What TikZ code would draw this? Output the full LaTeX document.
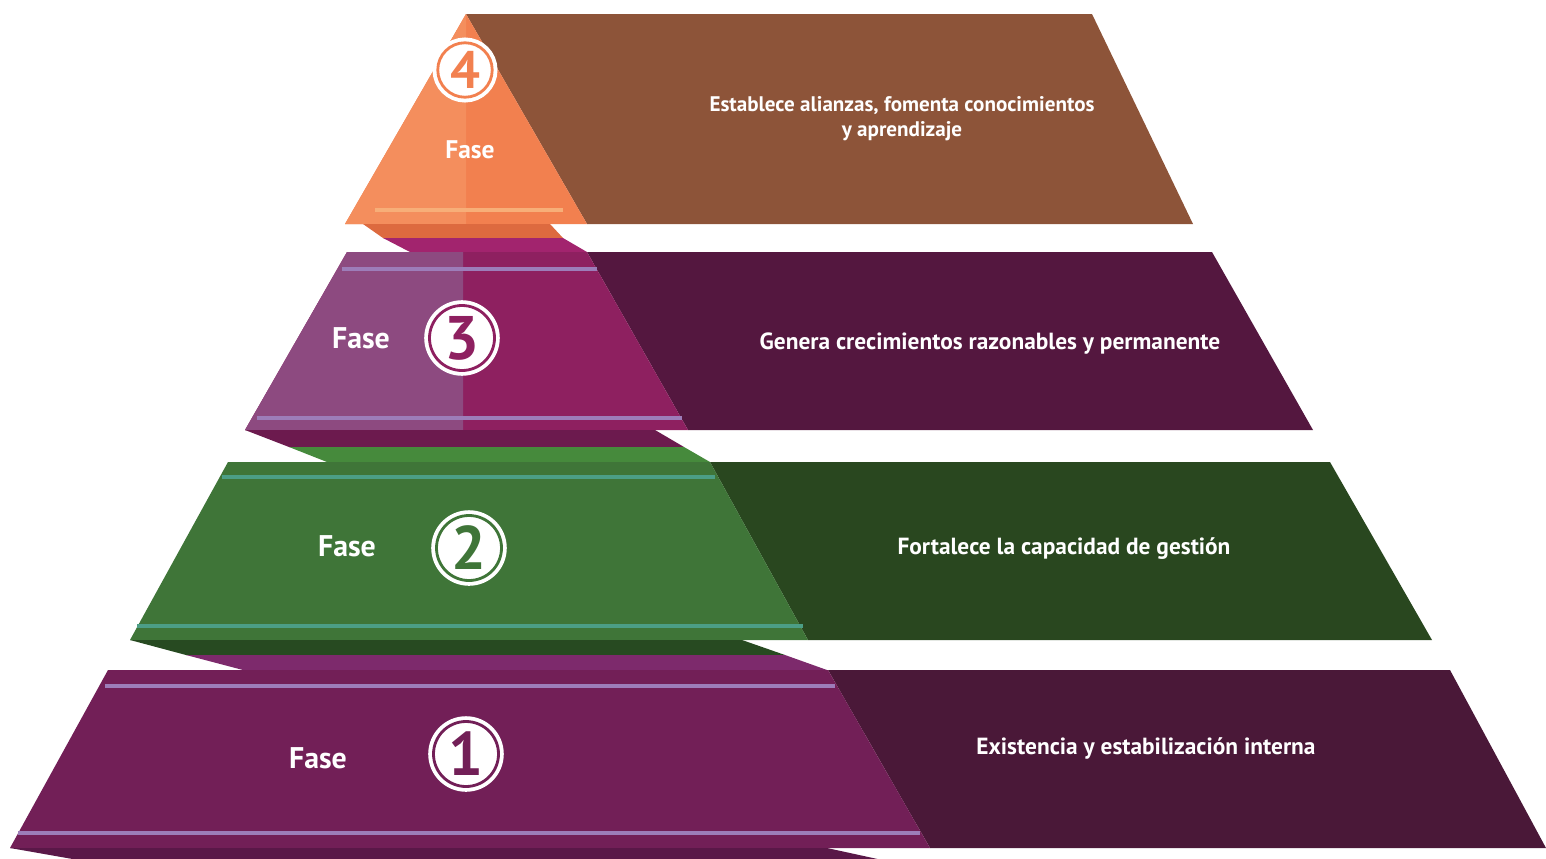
\documentclass[tikz,border=0pt]{standalone}
\usepackage{fontspec}
\setmainfont{PT Sans}
\usetikzlibrary{shapes,positioning}
\definecolor{orangeL}{HTML}{F48E5D}
\definecolor{orangeR}{HTML}{F2804F}
\definecolor{orangeD}{HTML}{DD6A3F}
\definecolor{orangeLine}{HTML}{F7AE78}
\definecolor{brownR}{HTML}{8D5439}
\definecolor{magL}{HTML}{8D4A80}
\definecolor{magR}{HTML}{8E2060}
\definecolor{magTop}{HTML}{A2246E}
\definecolor{magD}{HTML}{6C1A4E}
\definecolor{plumR}{HTML}{54173F}
\definecolor{lavLine}{HTML}{9D7DB9}
\definecolor{greenM}{HTML}{3F7538}
\definecolor{greenTop}{HTML}{468A3C}
\definecolor{greenD}{HTML}{274A21}
\definecolor{greenR}{HTML}{29471F}
\definecolor{tealLine}{HTML}{4C9E86}
\definecolor{purM}{HTML}{721F57}
\definecolor{purTop}{HTML}{7D2A6C}
\definecolor{purD}{HTML}{5A1848}
\definecolor{purR}{HTML}{4A1838}

\begin{document}
\begin{tikzpicture}[x=0.02cm,y=-0.02cm,
  fasestyle/.style={text=white,font=\bfseries\fontsize{17}{19}\selectfont},
  descstyle/.style={text=white,font=\bfseries\fontsize{13.3}{15}\selectfont,align=center},
  numstyle/.style={circle,fill=white,draw=white,double=#1,text=#1,line width=2.2pt,
    double distance=1.6pt,inner sep=0pt,minimum size=37pt,
    font=\bfseries\fontsize{35}{35}\selectfont}]
\useasboundingbox (0,0) rectangle (1546,859);
\clip (0,0) rectangle (1546,859);

% fase 4
\fill[brownR] (466,14)--(1092,14)--(1193,224)--(587,224)--cycle;
\fill[orangeR] (466,14)--(587,224)--(345,224)--cycle;
\fill[orangeL] (466,14)--(466,224)--(345,224)--cycle;
\draw[orangeLine,line width=1.8pt] (375,210)--(563,210);
\fill[orangeD] (363,224)--(550,224)--(563,238)--(383,238)--cycle;
\fill[magTop] (383,238)--(563,238)--(587,252)--(410,252)--cycle;

% fase 3
\fill[plumR] (587,252)--(1212,252)--(1313,430)--(688,430)--cycle;
\fill[magR] (347,252)--(587,252)--(688,430)--(245,430)--cycle;
\fill[magL] (347,252)--(463,252)--(463,430)--(245,430)--cycle;
\draw[lavLine,line width=1.8pt] (342,269)--(597,269);
\draw[lavLine,line width=1.8pt] (257,418)--(682,418);
\fill[magD] (245,430)--(655,430)--(684,447)--(289,447)--cycle;
\fill[greenTop] (289,447)--(684,447)--(710,462)--(327,462)--cycle;

% fase 2
\fill[greenR] (710,462)--(1330,462)--(1432,640)--(808,640)--cycle;
\fill[greenM] (228,462)--(710,462)--(808,640)--(130,640)--cycle;
\draw[tealLine,line width=1.8pt] (222,477)--(715,477);
\draw[tealLine,line width=1.8pt] (137,626)--(803,626);
\fill[greenD] (130,640)--(742,640)--(785,655)--(186,655)--cycle;
\fill[purTop] (186,655)--(785,655)--(827,670)--(243,670)--cycle;

% fase 1
\fill[purR] (828,670)--(1450,670)--(1546,848)--(930,848)--cycle;
\fill[purM] (108,670)--(828,670)--(930,848)--(10,848)--cycle;
\draw[lavLine,line width=1.8pt] (105,686)--(835,686);
\draw[lavLine,line width=1.8pt] (18,833)--(920,833);
\fill[purD] (10,848)--(827,848)--(928,870)--(135,870)--cycle;

% textos
\node[numstyle=orangeR,minimum size=31pt,font=\bfseries\fontsize{30}{30}\selectfont] (num4) at (465,70) {4};
\node[fasestyle,font=\bfseries\fontsize{14.5}{16}\selectfont] (fase4) at (470,150) {Fase};
\node[descstyle,font=\bfseries\fontsize{12}{14.2}\selectfont] (desc4) at (902,119) {Establece alianzas, fomenta conocimientos\\ y aprendizaje};

\node[numstyle=magR] (num3) at (462,338) {3};
\node[fasestyle] (fase3) at (361,338) {Fase};
\node[descstyle] (desc3) at (990,344) {Genera crecimientos razonables y permanente};

\node[numstyle=greenM] (num2) at (469,548) {2};
\node[fasestyle] (fase2) at (347,546) {Fase};
\node[descstyle] (desc2) at (1064,549) {Fortalece la capacidad de gestión};

\node[numstyle=purM] (num1) at (466,754) {1};
\node[fasestyle] (fase1) at (318,758) {Fase};
\node[descstyle] (desc1) at (1146,748) {Existencia y estabilización interna};
\end{tikzpicture}
\end{document}
